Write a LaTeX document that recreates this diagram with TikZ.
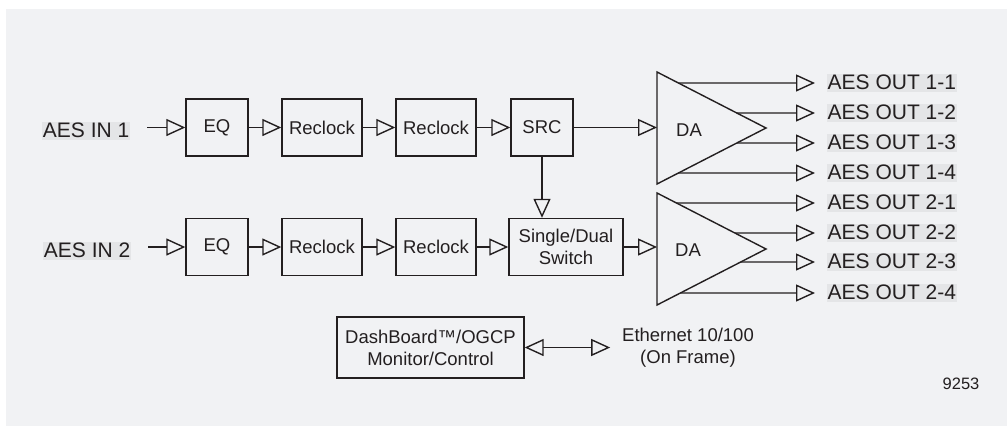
\documentclass[tikz,border=0pt]{standalone}
\usepackage{fontspec}
\setmainfont{Liberation Sans}
\usetikzlibrary{arrows.meta,calc}
\definecolor{bgc}{HTML}{F1F2F4}
\definecolor{hlc}{HTML}{E4E5E7}
\definecolor{inkc}{HTML}{231F20}

\begin{document}
\begin{tikzpicture}[x=1pt, y=-1pt,
	block/.style={draw=inkc, line width=1.4pt, inner sep=0pt, minimum height=57pt, text=inkc, font=\fontsize{18.5}{22}\selectfont},
	sig/.style={fill=hlc, inner sep=0.5pt, text height=15pt, text depth=2pt, text=inkc, font=\fontsize{21}{24}\selectfont},
	plain/.style={inner sep=0pt, text=inkc, font=\fontsize{18.5}{22}\selectfont},
	conn/.style={draw=inkc, line width=1.4pt, -{Triangle[open, length=19pt, width=17pt]}},
	dconn/.style={draw=inkc, line width=1.4pt, {Triangle[open, length=19pt, width=17pt]}-{Triangle[open, length=19pt, width=17pt]}},
	amp/.style={draw=inkc, line width=1.4pt, line join=miter}]
		\useasboundingbox (0,0) rectangle (1008,426);
		\fill[bgc] (6,9) rectangle (1007,426);
		
		\node[sig, anchor=east]	(ina) at (130,131)	{AES IN 1};
		\node[sig, anchor=east]	(inb) at (131,251)	{AES IN 2};
		
		\node[block, minimum width=62pt]	(eqa) at (217,127.5)	{EQ};
		\node[block, minimum width=80pt]	(rca) at (322,127.5)	{Reclock};
		\node[block, minimum width=80pt]	(rcb) at (436,127.5)	{Reclock};
		\node[block, minimum width=62pt]	(src) at (542,127.5)	{SRC};
		\node[block, minimum width=62pt]	(eqb) at (217,247)	{EQ};
		\node[block, minimum width=80pt]	(rcc) at (322,247)	{Reclock};
		\node[block, minimum width=80pt]	(rcd) at (436,247)	{Reclock};
		\node[block, align=center, minimum width=114pt]	(sw) at (566,247)	{Single/Dual\\Switch};
		\node[block, align=center, minimum width=187pt, minimum height=61pt]	(dash) at (430.5,347.5)	{DashBoard™/OGCP\\Monitor/Control};
		
		\coordinate (da1t) at (657,72);
		\coordinate (da1a) at (766,128);
		\coordinate (da1b) at (657,184);
		\coordinate (da2t) at (657,193);
		\coordinate (da2a) at (766,249);
		\coordinate (da2b) at (657,305);
		\draw[amp] (da1t) -- (da1a) -- (da1b) -- cycle;
		\draw[amp] (da2t) -- (da2a) -- (da2b) -- cycle;
		\node[plain]	(da1) at (689,130)	{DA};
		\node[plain]	(da2) at (688,250)	{DA};
		
		\node[sig, anchor=west]	(oa1) at (827,83)	{AES OUT 1-1};
		\node[sig, anchor=west]	(oa2) at (827,113)	{AES OUT 1-2};
		\node[sig, anchor=west]	(oa3) at (827,143)	{AES OUT 1-3};
		\node[sig, anchor=west]	(oa4) at (827,173)	{AES OUT 1-4};
		\node[sig, anchor=west]	(ob1) at (827,203)	{AES OUT 2-1};
		\node[sig, anchor=west]	(ob2) at (827,233)	{AES OUT 2-2};
		\node[sig, anchor=west]	(ob3) at (827,262)	{AES OUT 2-3};
		\node[sig, anchor=west]	(ob4) at (827,293)	{AES OUT 2-4};
		
		\node[plain, align=center, outer xsep=12pt]	(eth) at (688,347.5)	{Ethernet 10/100\\(On Frame)};
		\node[plain, font=\fontsize{16.5}{20}\selectfont]	(fig) at (961,384)	{9253};
		
		\draw[conn, shorten <=17pt] (ina.east |- eqa) -- (eqa);
		\draw[conn] (eqa) -- (rca);
		\draw[conn] (rca) -- (rcb);
		\draw[conn] (rcb) -- (src);
		\draw[conn] (src) -- (src -| da1t);
		\draw[conn] (src) -- (src |- sw.north);
		\draw[conn, shorten <=17pt] (inb.east |- eqb) -- (eqb);
		\draw[conn] (eqb) -- (rcc);
		\draw[conn] (rcc) -- (rcd);
		\draw[conn] (rcd) -- (sw);
		\draw[conn] (sw) -- (sw -| da2t);
		
		\draw[conn, shorten >=12pt] (intersection of da1t--da1a and oa1.west--oa1.east) -- (oa1.west);
		\draw[conn, shorten >=12pt] (intersection of da1t--da1a and oa2.west--oa2.east) -- (oa2.west);
		\draw[conn, shorten >=12pt] (intersection of da1a--da1b and oa3.west--oa3.east) -- (oa3.west);
		\draw[conn, shorten >=12pt] (intersection of da1a--da1b and oa4.west--oa4.east) -- (oa4.west);
		\draw[conn, shorten >=12pt] (intersection of da2t--da2a and ob1.west--ob1.east) -- (ob1.west);
		\draw[conn, shorten >=12pt] (intersection of da2t--da2a and ob2.west--ob2.east) -- (ob2.west);
		\draw[conn, shorten >=12pt] (intersection of da2a--da2b and ob3.west--ob3.east) -- (ob3.west);
		\draw[conn, shorten >=12pt] (intersection of da2a--da2b and ob4.west--ob4.east) -- (ob4.west);
		
		\draw[dconn] (dash) -- (eth);
		
\end{tikzpicture}
\end{document}
